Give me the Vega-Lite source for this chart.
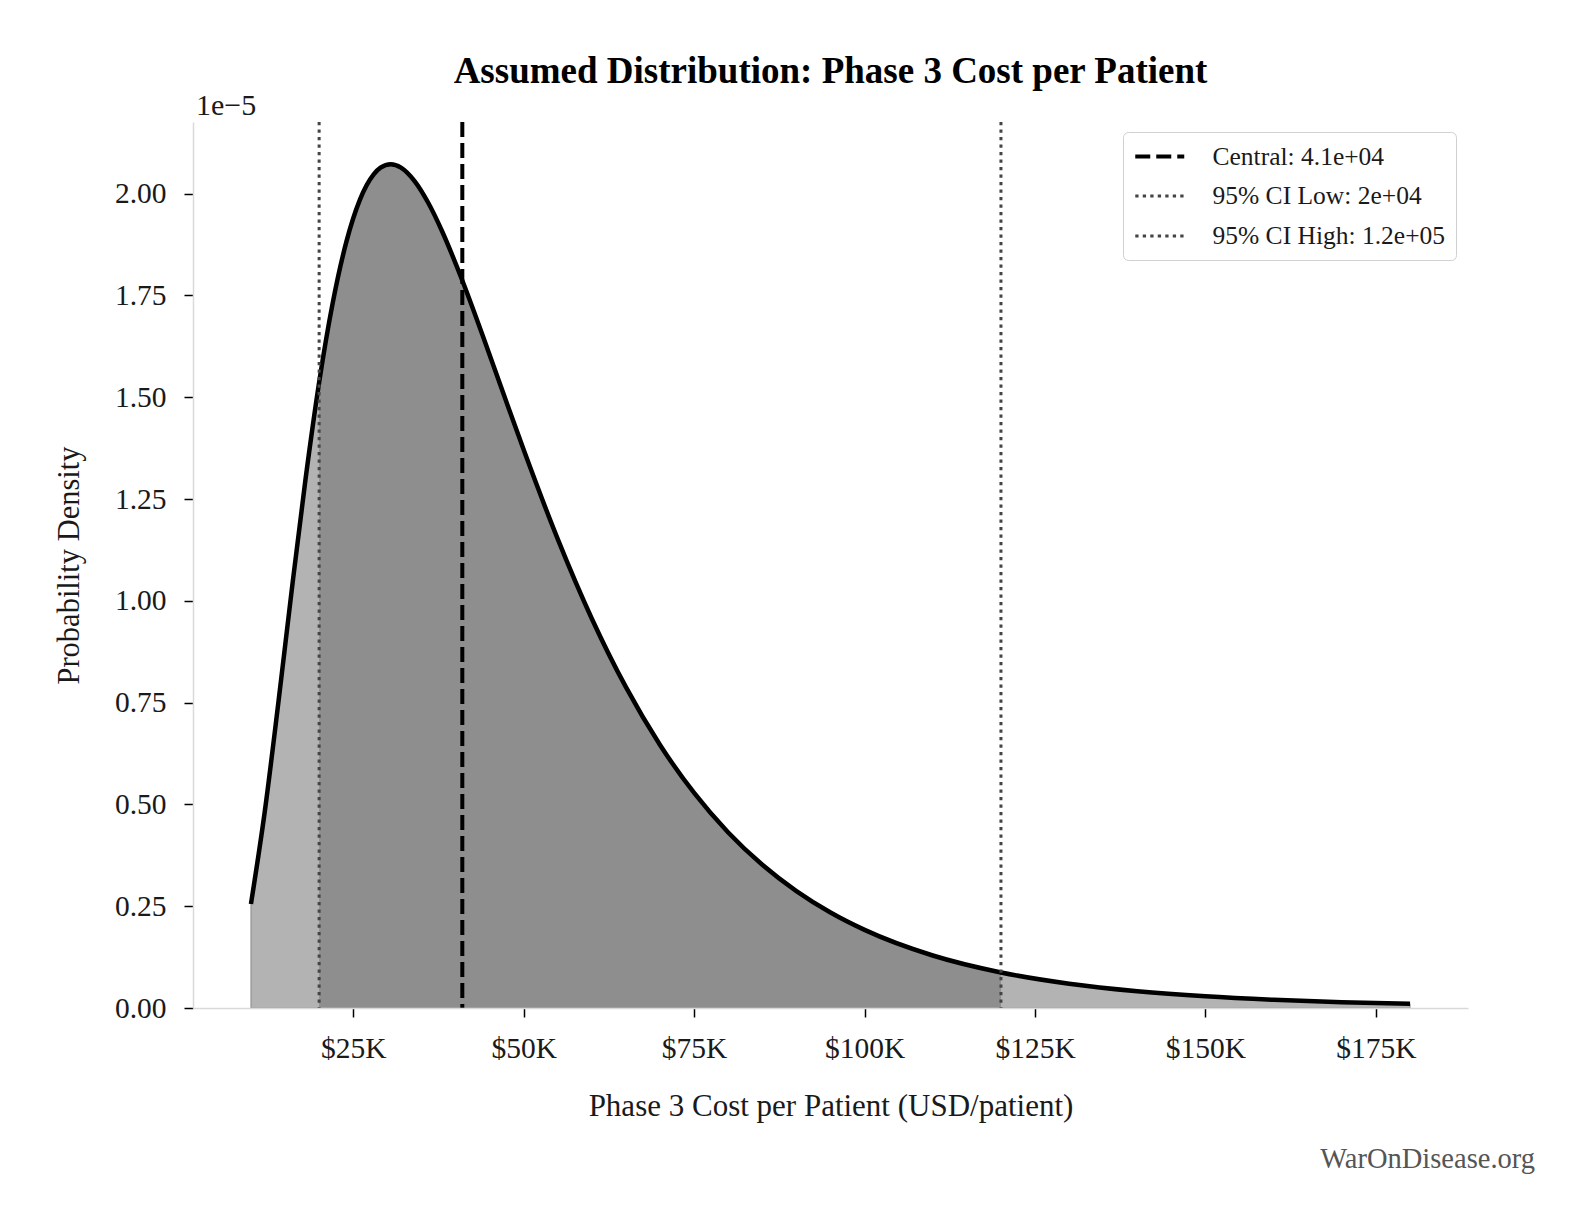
{
  "$schema": "https://vega.github.io/schema/vega-lite/v6.json",
  "width": 1275,
  "height": 886,
  "autosize": {"type": "none"},
  "padding": {"left": 193, "top": 122, "right": 124, "bottom": 222},
  "background": "white",
  "title": {
    "text": "Assumed Distribution: Phase 3 Cost per Patient",
    "font": "Liberation Serif",
    "fontSize": 37,
    "fontWeight": "bold",
    "color": "#000000",
    "offset": 0,
    "anchor": "middle"
  },
  "config": {
    "view": {"stroke": null},
    "font": "Liberation Serif",
    "axis": {
      "grid": false,
      "domainColor": "#d9d9d9",
      "domainWidth": 1.5,
      "tickColor": "#000000",
      "tickWidth": 1.5,
      "tickSize": 9,
      "labelFont": "Liberation Serif",
      "labelFontSize": 29.5,
      "labelColor": "#1a1a1a",
      "titleFont": "Liberation Serif",
      "titleFontSize": 30.5,
      "titleFontWeight": "normal",
      "titleColor": "#1a1a1a"
    }
  },
  "datasets": {
    "curve": [
      {"cost": 10000, "density": 0.2554},
      {"cost": 12000, "density": 0.4791},
      {"cost": 14000, "density": 0.7471},
      {"cost": 16000, "density": 1.0290},
      {"cost": 18000, "density": 1.2983},
      {"cost": 20000, "density": 1.5365},
      {"cost": 22000, "density": 1.7324},
      {"cost": 24000, "density": 1.8822},
      {"cost": 26000, "density": 1.9860},
      {"cost": 28000, "density": 2.0472},
      {"cost": 29000, "density": 2.0637},
      {"cost": 30500, "density": 2.0723},
      {"cost": 32000, "density": 2.0640},
      {"cost": 34000, "density": 2.0309},
      {"cost": 36000, "density": 1.9776},
      {"cost": 38000, "density": 1.9090},
      {"cost": 41000, "density": 1.7867},
      {"cost": 44000, "density": 1.6510},
      {"cost": 47000, "density": 1.5103},
      {"cost": 50000, "density": 1.3710},
      {"cost": 55000, "density": 1.1516},
      {"cost": 60000, "density": 0.9561},
      {"cost": 65000, "density": 0.7879},
      {"cost": 70000, "density": 0.6460},
      {"cost": 75000, "density": 0.5281},
      {"cost": 80000, "density": 0.4311},
      {"cost": 85000, "density": 0.3517},
      {"cost": 90000, "density": 0.2871},
      {"cost": 95000, "density": 0.2345},
      {"cost": 100000, "density": 0.1918},
      {"cost": 110000, "density": 0.1289},
      {"cost": 120000, "density": 0.0873},
      {"cost": 130000, "density": 0.0597},
      {"cost": 140000, "density": 0.0412},
      {"cost": 150000, "density": 0.0286},
      {"cost": 160000, "density": 0.0201},
      {"cost": 170000, "density": 0.0142},
      {"cost": 180000, "density": 0.0102}
    ],
    "markers": [
      {"label": "Central: 4.1e+04", "cost": 41000},
      {"label": "95% CI Low: 2e+04", "cost": 20000},
      {"label": "95% CI High: 1.2e+05", "cost": 120000}
    ],
    "notes": [
      {"note": "1e\u22125", "cost": 1500, "density": 2.176, "kind": "offset"},
      {"note": "WarOnDisease.org", "cost": 188500, "density": 0, "kind": "footer"}
    ]
  },
  "layer": [
    {
      "data": {"name": "curve"},
      "mark": {"type": "area", "color": "#b3b3b3", "stroke": "#8a8a8a", "strokeWidth": 1, "interpolate": "monotone"},
      "encoding": {
        "x": {
          "field": "cost",
          "type": "quantitative",
          "scale": {"domain": [1500, 188500], "nice": false, "zero": false},
          "axis": {
            "title": "Phase 3 Cost per Patient (USD/patient)",
            "values": [25000, 50000, 75000, 100000, 125000, 150000, 175000],
            "labelExpr": "'$' + (datum.value / 1000) + 'K'",
            "labelPadding": 17,
            "titlePadding": 29,
            "titleFontSize": 31,
            "zindex": 1
          }
        },
        "y": {
          "field": "density",
          "type": "quantitative",
          "scale": {"domain": [0, 2.176], "nice": false},
          "axis": {
            "title": "Probability Density",
            "values": [0, 0.25, 0.5, 0.75, 1, 1.25, 1.5, 1.75, 2],
            "format": ".2f",
            "labelPadding": 18,
            "titlePadding": 30
          }
        }
      }
    },
    {
      "data": {"name": "curve"},
      "transform": [{"filter": "datum.cost >= 20000 && datum.cost <= 120000"}],
      "mark": {"type": "area", "color": "#8e8e8e", "interpolate": "monotone"},
      "encoding": {
        "x": {"field": "cost", "type": "quantitative"},
        "y": {"field": "density", "type": "quantitative"}
      }
    },
    {
      "data": {"name": "curve"},
      "mark": {"type": "line", "color": "#000000", "strokeWidth": 4.5, "interpolate": "monotone"},
      "encoding": {
        "x": {"field": "cost", "type": "quantitative"},
        "y": {"field": "density", "type": "quantitative"}
      }
    },
    {
      "data": {"name": "markers"},
      "mark": {"type": "rule"},
      "encoding": {
        "x": {"field": "cost", "type": "quantitative"},
        "color": {
          "field": "label",
          "type": "nominal",
          "scale": {
            "domain": ["Central: 4.1e+04", "95% CI Low: 2e+04", "95% CI High: 1.2e+05"],
            "range": ["#000000", "#444444", "#444444"]
          },
          "legend": {
            "title": null,
            "orient": "none",
            "legendX": 930,
            "legendY": 10,
            "symbolType": "M-2,0H2",
            "symbolSize": 600,
            "symbolOffset": 12.25,
            "labelFont": "Liberation Serif",
            "labelFontSize": 25.5,
            "labelLimit": 600,
            "labelColor": "#1a1a1a",
            "labelOffset": 38.25,
            "rowPadding": 12,
            "padding": 10,
            "strokeColor": "#d0d0d0",
            "cornerRadius": 5,
            "fillColor": "white"
          }
        },
        "strokeDash": {
          "field": "label",
          "type": "nominal",
          "scale": {
            "domain": ["Central: 4.1e+04", "95% CI Low: 2e+04", "95% CI High: 1.2e+05"],
            "range": [[15, 6], [3.3, 4.2], [3.3, 4.2]]
          }
        },
        "strokeWidth": {
          "field": "label",
          "type": "ordinal",
          "scale": {
            "type": "ordinal",
            "domain": ["Central: 4.1e+04", "95% CI Low: 2e+04", "95% CI High: 1.2e+05"],
            "range": [4, 3, 3]
          }
        }
      }
    },
    {
      "data": {"name": "notes"},
      "transform": [{"filter": "datum.kind == 'offset'"}],
      "mark": {"type": "text", "align": "left", "baseline": "bottom", "dy": -1, "dx": 3, "fontSize": 30, "font": "Liberation Serif", "color": "#1a1a1a"},
      "encoding": {
        "x": {"field": "cost", "type": "quantitative"},
        "y": {"field": "density", "type": "quantitative"},
        "text": {"field": "note", "type": "nominal"}
      }
    },
    {
      "data": {"name": "notes"},
      "transform": [{"filter": "datum.kind == 'footer'"}],
      "mark": {"type": "text", "align": "right", "baseline": "middle", "dy": 151, "dx": 67, "fontSize": 28.5, "font": "Liberation Serif", "color": "#555555"},
      "encoding": {
        "x": {"field": "cost", "type": "quantitative"},
        "y": {"field": "density", "type": "quantitative"},
        "text": {"field": "note", "type": "nominal"}
      }
    }
  ]
}
